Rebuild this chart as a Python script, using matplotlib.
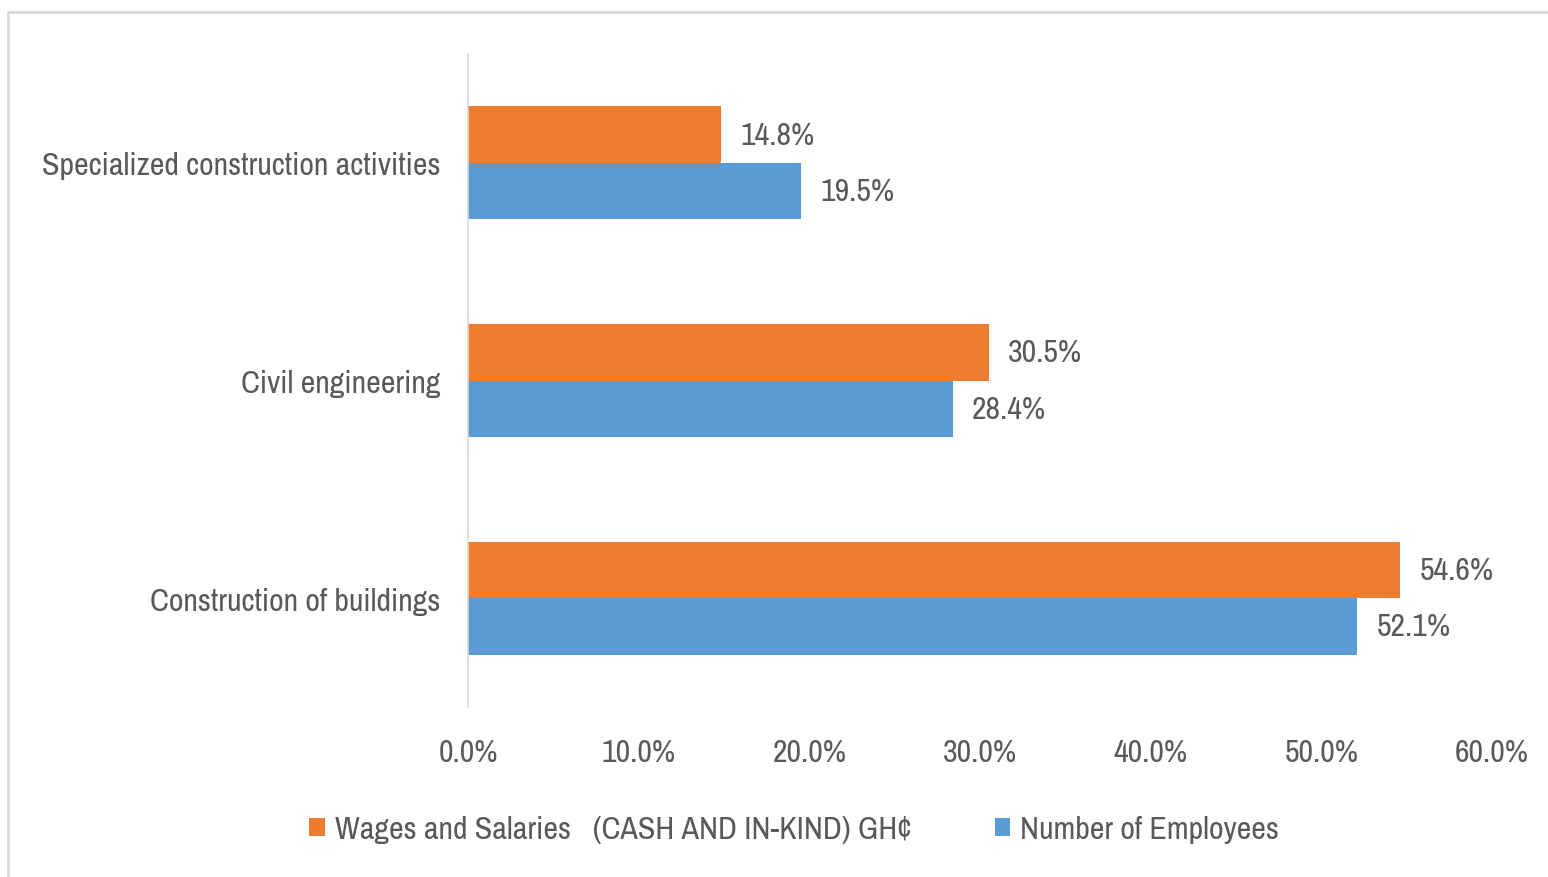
import numpy as np
import matplotlib.pyplot as plt
from matplotlib.patches import Rectangle
from matplotlib.ticker import PercentFormatter

# --- data ---
categories = ["Construction of buildings", "Civil engineering", "Specialized construction activities"]
wages = [54.6, 30.5, 14.8]
employees = [52.1, 28.4, 19.5]
wages_label = "Wages and Salaries   (CASH AND IN-KIND) GH\u00a2"
employees_label = "Number of Employees"

ORANGE = "#ED7D31"
BLUE = "#5B9BD5"
TEXT = "#595959"
FS = 23

plt.rcParams["font.family"] = ["Archivo Narrow", "Liberation Sans", "DejaVu Sans"]

fig = plt.figure(figsize=(15.48, 8.78), dpi=100)
ax = fig.add_axes([468 / 1548, 1 - 708 / 878, 1024 / 1548, 653 / 878])

# outer chart frame (only top/left edges visible in the crop)
fig.patches.append(Rectangle((8 / 1548, -0.1), 1.2, 1 - 13 / 878 + 0.1,
                             transform=fig.transFigure, fill=False,
                             edgecolor="#D9D9D9", linewidth=2))

y = np.arange(len(categories))
h = 0.26
b_w = ax.barh(y + h / 2, wages, height=h, color=ORANGE, label=wages_label)
b_e = ax.barh(y - h / 2, employees, height=h, color=BLUE, label=employees_label)

for bars in (b_w, b_e):
    ax.bar_label(bars, labels=[f"{v:.1f}%" for v in bars.datavalues],
                 padding=14, fontsize=FS, color=TEXT)

ax.set_xlim(0, 60)
ax.set_ylim(-0.5, 2.5)
ax.set_xticks(np.arange(0, 61, 10))
ax.xaxis.set_major_formatter(PercentFormatter(decimals=1))
ax.set_yticks(y)
ax.set_yticklabels(categories)
ax.tick_params(axis="both", length=0, labelsize=FS, colors=TEXT)
ax.tick_params(axis="x", pad=22)
ax.tick_params(axis="y", pad=20)

for s in ("top", "right", "bottom"):
    ax.spines[s].set_visible(False)
ax.spines["left"].set_color("#D9D9D9")
ax.spines["left"].set_linewidth(1.2)

fig.legend(handles=[b_w, b_e], loc="center", bbox_to_anchor=(794 / 1548, 1 - 830 / 878),
           ncol=2, frameon=False, fontsize=FS, labelcolor=TEXT,
           handlelength=0.5, handleheight=0.5, handletextpad=0.3, columnspacing=2.6)

fig.savefig("out.png", dpi=100)
